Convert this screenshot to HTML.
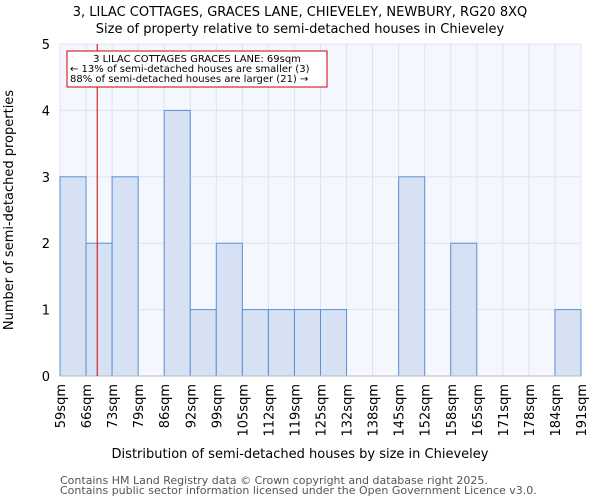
<!DOCTYPE html>
<html><head><meta charset="utf-8"><style>
body{margin:0;background:#fff}
svg{display:block;font-family:"DejaVu Sans","Liberation Sans",sans-serif}
</style></head><body>
<svg id="c" width="600" height="500" viewBox="0 0 600 500">
<text x="300" y="16" text-anchor="middle" font-size="13">3, LILAC COTTAGES, GRACES LANE, CHIEVELEY, NEWBURY, RG20 8XQ</text>
<text x="300" y="33" text-anchor="middle" font-size="13">Size of property relative to semi-detached houses in Chieveley</text>
<rect x="60" y="44" width="521" height="332" fill="#f4f7fd"/>
<g id="grid"></g><g id="bars"></g><g id="xt"></g><g id="yt"></g>
<text x="300" y="458" text-anchor="middle" font-size="13">Distribution of semi-detached houses by size in Chieveley</text>
<text transform="translate(13,210) rotate(-90)" text-anchor="middle" font-size="13">Number of semi-detached properties</text>
<text x="60" y="484" font-size="11" fill="#555">Contains HM Land Registry data © Crown copyright and database right 2025.</text>
<text x="60" y="494" font-size="11" fill="#555">Contains public sector information licensed under the Open Government Licence v3.0.</text>
</svg>
<script>
const binLabels=["59sqm","66sqm","73sqm","79sqm","86sqm","92sqm","99sqm","105sqm","112sqm","119sqm","125sqm","132sqm","138sqm","145sqm","152sqm","158sqm","165sqm","171sqm","178sqm","184sqm","191sqm"];
const binEdges=[59,66,73,79,86,92,99,105,112,119,125,132,138,145,152,158,165,171,178,184,191];
const counts=[3,2,3,0,4,1,2,1,1,1,1,0,0,3,0,2,0,0,0,1];
const yTicks=[0,1,2,3,4,5];
const propertySize=69;
const NS="http://www.w3.org/2000/svg";
const X0=60,X1=581,Y0=376,Y1=44,n=counts.length,bw=(X1-X0)/n;
const xi=i=>X0+i*bw;
const y=v=>Y0-(v/5)*(Y0-Y1);
function xv(v){for(let i=0;i<binEdges.length-1;i++){if(v<=binEdges[i+1])return xi(i)+(v-binEdges[i])/(binEdges[i+1]-binEdges[i])*bw;}return X1;}
function mk(t,a,p){const e=document.createElementNS(NS,t);for(const k in a)e.setAttribute(k,a[k]);p.appendChild(e);return e;}
const g=document.getElementById('grid'),b=document.getElementById('bars'),xt=document.getElementById('xt'),yt=document.getElementById('yt');
yTicks.forEach(v=>{const l=mk('line',{x1:X0,x2:X1,y1:y(v),y2:y(v),stroke:'#dde3ee'},g);


const t=mk('text',{x:X0-10,y:y(v)+5,'text-anchor':'end','font-size':13},yt);t.textContent=v;

});
binLabels.forEach((s,i)=>{const l=mk('line',{x1:xi(i),x2:xi(i),y1:Y1,y2:Y0,stroke:'#dde3ee'},g);


const t=mk('text',{transform:`translate(${xi(i)+5},384) rotate(-90)`,'text-anchor':'end','font-size':13},xt);t.textContent=s;

});
counts.forEach((c,i)=>{if(!c)return;const r=mk('rect',{x:xi(i),y:y(c),width:bw,height:Y0-y(c),fill:'#d6e1f3',stroke:'#5b8fd6','stroke-width':1},b);

});
const ax=mk('line',{x1:X0,x2:X1,y1:Y0,y2:Y0,stroke:'#bbb'},b);


const px=xv(propertySize);
const m=mk('line',{x1:px,x2:px,y1:Y1,y2:Y0,stroke:'#cc0000','stroke-width':1},b);


const ann=mk('g',{},b);


mk('rect',{x:67,y:51,width:260,height:36,fill:'#fff',stroke:'#cc0000','stroke-width':1},ann);
[["3 LILAC COTTAGES GRACES LANE: "+propertySize+"sqm",197,'middle',62],["← 13% of semi-detached houses are smaller (3)",70,'start',72],["88% of semi-detached houses are larger (21) →",70,'start',82]].forEach(a=>{const t=mk('text',{x:a[1],y:a[3],'text-anchor':a[2],'font-size':10},ann);t.textContent=a[0];});
</script>
</body></html>
